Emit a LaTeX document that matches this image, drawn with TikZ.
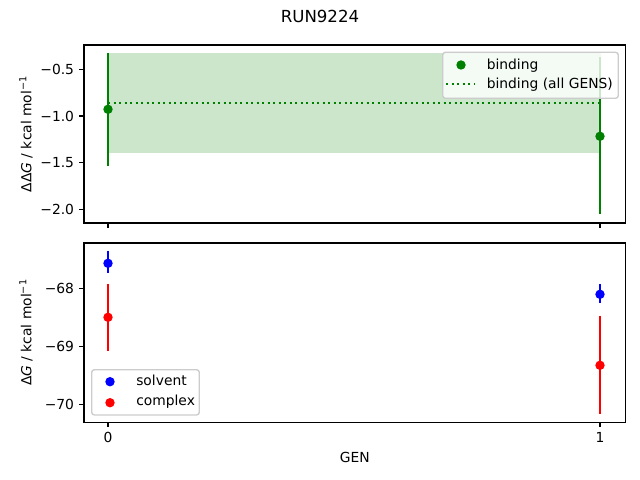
\documentclass[tikz,border=0pt]{standalone}
\usepackage{fontspec}
\setmainfont{DejaVu Sans}
\definecolor{mplgreen}{RGB}{0,128,0}
\definecolor{mplblue}{RGB}{0,0,255}
\definecolor{mplred}{RGB}{255,0,0}
\definecolor{bandgreen}{RGB}{204,230,204}

\begin{document}
\begin{tikzpicture}[x=0.01in,y=-0.01in,
    every node/.style={inner sep=0pt,font=\fontsize{10}{12}\selectfont},
    axframe/.style={line width=0.8pt,black},
    tickmark/.style={line width=0.8pt,black},
    errbar/.style={line width=1.5pt},
    datadot/.style={circle,fill=#1,minimum size=6.8pt},
    legendbox/.style={draw=black!20,fill=white,fill opacity=0.8,rounded corners=2pt,line width=1pt}]
    \useasboundingbox (0,0) rectangle (640,480);
    % title
    \node[font=\fontsize{12}{14}\selectfont] (title) at (320,16) {RUN9224};
    % upper panel: binding
    \path (84,45) coordinate (TL) (625.7,223) coordinate (TR)
        (108,53.3) coordinate (bandA) (600,152.3) coordinate (bandB)
        (108,102.7) coordinate (meanA) (600,102.7) coordinate (meanB);
    \fill[bandgreen] (bandA) rectangle (bandB);
    \draw[mplgreen!20,line width=1pt] (bandA) rectangle (bandB);
    \draw[mplgreen,line width=1.5pt,dash pattern=on 1.5pt off 2.475pt] (meanA) -- (meanB);
    \path (108,53.3) coordinate (b0hi) (108,165.7) coordinate (b0lo)
        (600,57.3) coordinate (b1hi) (600,214.3) coordinate (b1lo);
    \draw[errbar,mplgreen] (b0hi) -- (b0lo);
    \draw[errbar,mplgreen] (b1hi) -- (b1lo);
    \node[datadot=mplgreen] (b0) at (108,109.3) {};
    \node[datadot=mplgreen] (b1) at (600,136.3) {};
    \draw[axframe] (TL) rectangle (TR);
    \foreach \yy/\lab in {69.3/{−0.5},116/{−1.0},162.6/{−1.5},209.3/{−2.0}}{
        \draw[tickmark] (84,\yy) -- (79.1,\yy);
        \node[anchor=east] at (74.3,\yy) {\lab};
    }
    \foreach \xx in {108,600}
        \draw[tickmark] (\xx,223) -- (\xx,227.9);
    \node[rotate=90] (ylabA) at (26,134) {ΔΔ\textit{G} / kcal mol\textsuperscript{−1}};
    % legend of upper panel
    \draw[legendbox] (442.7,52.3) rectangle (618.3,98.3);
    \node[datadot=mplgreen] (legb) at (461,65) {};
    \path (446,84) coordinate (legmA) (475,84) coordinate (legmB);
    \draw[mplgreen,line width=1.5pt,dash pattern=on 1.5pt off 2.475pt] (legmA) -- (legmB);
    \node[anchor=west] at (486.5,65.5) {binding};
    \node[anchor=west] at (486.5,84.8) {binding (all GENS)};
    % lower panel: solvent and complex
    \path (84,243) coordinate (BL) (625.7,422.3) coordinate (BR)
        (108,250.7) coordinate (s0hi) (108,273.3) coordinate (s0lo)
        (108,284) coordinate (c0hi) (108,350.7) coordinate (c0lo)
        (600,284) coordinate (s1hi) (600,302.7) coordinate (s1lo)
        (600,315.7) coordinate (c1hi) (600,414) coordinate (c1lo);
    \draw[errbar,mplblue] (s0hi) -- (s0lo);
    \draw[errbar,mplred] (c0hi) -- (c0lo);
    \draw[errbar,mplblue] (s1hi) -- (s1lo);
    \draw[errbar,mplred] (c1hi) -- (c1lo);
    \node[datadot=mplblue] (s0) at (108,263.3) {};
    \node[datadot=mplred] (c0) at (108,317.3) {};
    \node[datadot=mplblue] (s1) at (600,294.3) {};
    \node[datadot=mplred] (c1) at (600,365.3) {};
    \draw[axframe] (BL) rectangle (BR);
    \foreach \yy/\lab in {288.3/{−68},346.3/{−69},404.3/{−70}}{
        \draw[tickmark] (84,\yy) -- (79.1,\yy);
        \node[anchor=east] at (74.3,\yy) {\lab};
    }
    \foreach \xx/\lab in {108/0,600/1}{
        \draw[tickmark] (\xx,422.3) -- (\xx,427.2);
        \node at (\xx,437.5) {\lab};
    }
    \node[rotate=90] (ylabB) at (26,332.5) {Δ\textit{G} / kcal mol\textsuperscript{−1}};
    \node (xlab) at (354.8,457) {GEN};
    % legend of lower panel
    \draw[legendbox] (91.7,369.7) rectangle (199.3,415);
    \node[datadot=mplblue] (legs) at (110,381.7) {};
    \node[datadot=mplred] (legc) at (110,402.7) {};
    \node[anchor=west] at (136,380.5) {solvent};
    \node[anchor=west] at (136,401.5) {complex};
\end{tikzpicture}
\end{document}
